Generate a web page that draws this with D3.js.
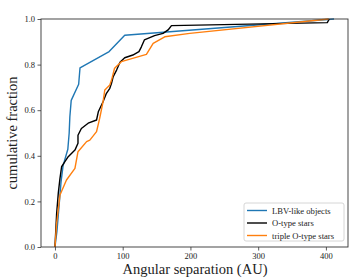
<!DOCTYPE html>
<html lang="en">
  <head>
    <meta charset="utf-8">
    <title>cumulative fraction</title>
    <style>
      body { margin: 0; background: #fff; }
      svg text { font-family: "Liberation Serif", "DejaVu Serif", serif; fill: #222; }
    </style>
  </head>
  <body>
    <svg class="chart"></svg>
    <script src="https://d3js.org/d3.v7.min.js"></script>
    <script>
      // series: angular separation (AU) and cumulative fraction
      const lbvX = [0, 3, 5, 7, 9, 12, 19, 21, 22, 24, 35, 37, 80, 103, 412];
      const lbvY = [0, 0.071, 0.143, 0.214, 0.286, 0.357, 0.429, 0.5, 0.571, 0.643, 0.714, 0.786, 0.857, 0.929, 1.0];

      const oX = [0, 2.5, 4.9, 7.4, 9.8, 14.7, 19.6, 29.5, 34, 34, 39, 49, 61.4, 64, 71, 76, 81, 83.5, 86, 91, 96, 103, 115, 124, 127.6, 132, 147, 159.6, 167, 172, 402, 405];
      const oY = [0, 0.148, 0.235, 0.301, 0.352, 0.374, 0.396, 0.425, 0.455, 0.49, 0.52, 0.543, 0.557, 0.593, 0.637, 0.674, 0.696, 0.718, 0.747, 0.776, 0.81, 0.83, 0.842, 0.857, 0.878, 0.908, 0.927, 0.937, 0.952, 0.971, 0.984, 1.0];

      const tripleX = [0, 2.5, 7.4, 17, 29.5, 34, 46.7, 51.5, 61.4, 66, 71, 73.6, 81, 83.5, 88, 98, 135, 145, 162, 199, 404];
      const tripleY = [0, 0.104, 0.228, 0.294, 0.345, 0.418, 0.462, 0.469, 0.506, 0.564, 0.637, 0.689, 0.711, 0.732, 0.784, 0.813, 0.845, 0.893, 0.922, 0.937, 1.0];

      const seriesNames = ["LBV-like objects", "O-type stars", "triple O-type stars"];
      const seriesColors = ["#1f77b4", "#000000", "#ff7f0e"];
      const xTicks = [0, 100, 200, 300, 400];
      const yTicks = [0.0, 0.2, 0.4, 0.6, 0.8, 1.0];

      const width = 354, height = 280;
      const margin = {top: 19, right: 6, bottom: 33, left: 41};

      const svg = d3.select(".chart")
        .attr("width", width)
        .attr("height", height);

      const allX = lbvX.concat(oX, tripleX);
      const xMin = d3.min(allX), xMax = d3.max(allX);
      const pad = (xMax - xMin) * 0.05;

      const x = d3.scaleLinear()
        .domain([xMin - pad, xMax + pad])
        .range([margin.left, width - margin.right]);
      const y = d3.scaleLinear()
        .domain([0, 1])
        .range([height - margin.bottom, margin.top]);

      const xAxis = svg.append("g")
        .attr("transform", "translate(0," + (height - margin.bottom) + ")")
        .call(d3.axisBottom(x).tickValues(xTicks).tickSize(3.5).tickPadding(2.5).tickFormat(d3.format("d")));
      const yAxis = svg.append("g")
        .attr("transform", "translate(" + margin.left + ",0)")
        .call(d3.axisLeft(y).tickValues(yTicks).tickSize(3.5).tickPadding(2.5).tickFormat(d3.format(".1f")));

      [xAxis, yAxis].forEach(function(g) {
        g.select(".domain").remove();
        g.selectAll("line").attr("stroke", "#333").attr("stroke-width", 0.8);
        g.selectAll("text").attr("font-size", 8.5).style("font-family", "'Liberation Serif', serif").attr("fill", "#222");
      });

      const line = d3.line().x(d => x(d[0])).y(d => y(d[1]));
      const data = [d3.zip(lbvX, lbvY), d3.zip(oX, oY), d3.zip(tripleX, tripleY)];

      svg.append("clipPath").attr("id", "clip")
        .append("rect")
        .attr("x", margin.left).attr("y", margin.top - 2)
        .attr("width", width - margin.left - margin.right)
        .attr("height", height - margin.top - margin.bottom + 2);

      svg.append("g").attr("clip-path", "url(#clip)")
        .selectAll("path")
        .data(data)
        .enter()
        .append("path")
        .attr("d", line)
        .attr("fill", "none")
        .attr("stroke", (d, i) => seriesColors[i])
        .attr("stroke-width", 1.4)
        .attr("stroke-linejoin", "round");

      // frame
      svg.append("rect")
        .attr("x", margin.left).attr("y", margin.top)
        .attr("width", width - margin.left - margin.right)
        .attr("height", height - margin.top - margin.bottom)
        .attr("fill", "none")
        .attr("stroke", "#333")
        .attr("stroke-width", 0.9);

      // legend
      const legend = svg.append("g").attr("transform", "translate(244,203)");
      legend.append("rect")
        .attr("width", 100).attr("height", 38)
        .attr("rx", 2)
        .attr("fill", "#fff").attr("fill-opacity", 0.8)
        .attr("stroke", "#ccc").attr("stroke-width", 0.8);
      const items = legend.selectAll("g.item").data(seriesNames).enter()
        .append("g").attr("class", "item")
        .attr("transform", (d, i) => "translate(0," + (7.5 + i * 12.5) + ")");
      items.append("line")
        .attr("x1", 3).attr("x2", 23)
        .attr("stroke", (d, i) => seriesColors[i])
        .attr("stroke-width", 1.4);
      items.append("text")
        .attr("x", 28).attr("dy", "0.35em")
        .attr("font-size", 8.6)
        .text(d => d);

      // axis labels
      svg.append("text")
        .attr("x", 195).attr("y", 274)
        .attr("text-anchor", "middle")
        .attr("font-size", 14.5)
        .text("Angular separation (AU)");
      svg.append("text")
        .attr("transform", "translate(17," + y(0.5) + ") rotate(-90)")
        .attr("text-anchor", "middle")
        .attr("font-size", 14.5)
        .text("cumulative fraction");
    </script>
  </body>
</html>
